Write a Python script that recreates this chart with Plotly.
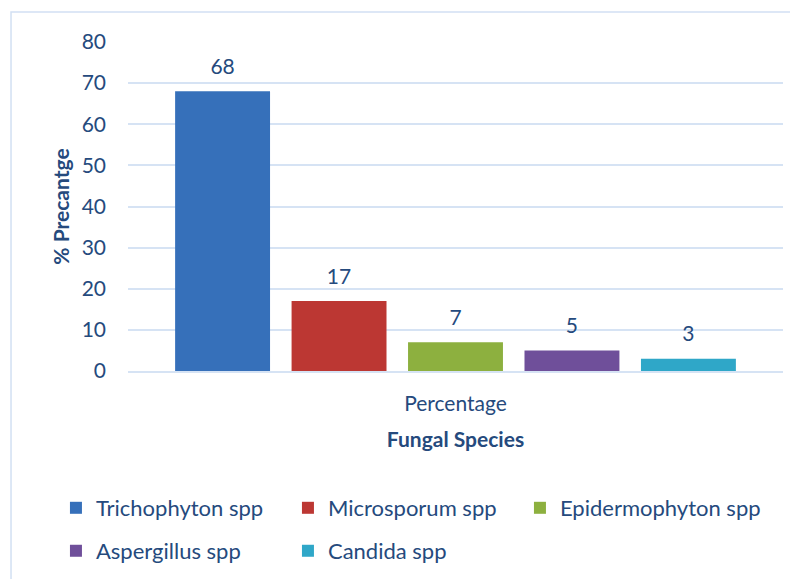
import plotly.graph_objects as go

species = ["Trichophyton spp", "Microsporum spp", "Epidermophyton spp", "Aspergillus spp", "Candida spp"]
values = [68, 17, 7, 5, 3]
category = ["Percentage"]
colors = ["#3670BA", "#BC3733", "#8DB03F", "#6F4F9A", "#2FA7C8"]
legend_ids = ["legend", "legend", "legend3", "legend2", "legend2"]
y_ticks = [0, 10, 20, 30, 40, 50, 60, 70, 80]

TXT = "#254A7D"
FONT = "Lato"
FS = 21
LFS = 22

fig = go.Figure()
for name, v, c, lg in zip(species, values, colors, legend_ids):
    fig.add_trace(go.Bar(
        name=name, x=category, y=[v], marker=dict(color=c, line=dict(width=0)),
        legend=lg, offsetgroup=name,
    ))
for name, v in zip(species, values):
    fig.add_trace(go.Scatter(
        x=category, y=[v], mode="markers+text", text=[str(v)],
        textposition="top center", marker=dict(size=18, opacity=0),
        textfont=dict(family=FONT, size=FS, color=TXT),
        showlegend=False, hoverinfo="skip", offsetgroup=name, cliponaxis=False,
    ))

leg_common = dict(orientation="h", xanchor="left", yanchor="middle",
                  font=dict(family=FONT, size=LFS, color=TXT), bgcolor="rgba(0,0,0,0)")

fig.update_layout(
    width=798, height=579,
    margin=dict(l=120, r=23, t=34, b=216, autoexpand=False),
    paper_bgcolor="white", plot_bgcolor="white",
    barmode="group", bargap=0.111, bargroupgap=0.185,
    scattermode="group", scattergap=0.111,
    font=dict(family=FONT, size=FS, color=TXT),
    legend=dict(x=-0.110, y=-0.4164, entrywidth=187, entrywidthmode="pixels", **leg_common),
    legend2=dict(x=-0.110, y=-0.547, entrywidth=187, entrywidthmode="pixels", **leg_common),
    legend3=dict(x=0.5984, y=-0.4164, **leg_common),
    showlegend=True,
)
fig.update_yaxes(
    range=[0, 80], tickvals=y_ticks, showgrid=True, gridcolor="#D6E3F4", gridwidth=2,
    zeroline=False, showline=False, ticks="", ticklabelstandoff=21, automargin=False,
    tickfont=dict(family=FONT, size=FS, color=TXT),
    title=dict(text="<b>% Precantge</b>", font=dict(family=FONT, size=FS, color=TXT), standoff=6),
)
fig.update_xaxes(
    showgrid=False, zeroline=False, showline=True, linecolor="#D6E3F4", linewidth=2,
    ticks="", ticklabelstandoff=13, automargin=False,
    tickfont=dict(family=FONT, size=FS, color=TXT),
    title=dict(text="<b>Fungal Species</b>", font=dict(family=FONT, size=FS, color=TXT), standoff=18),
)
fig.add_shape(type="rect", xref="paper", yref="paper",
              x0=-0.1786, x1=1.05, y0=-0.7, y1=1.0912,
              line=dict(color="#D2E0F3", width=1.5), fillcolor="rgba(0,0,0,0)", layer="below")

fig.write_html("out.html")
